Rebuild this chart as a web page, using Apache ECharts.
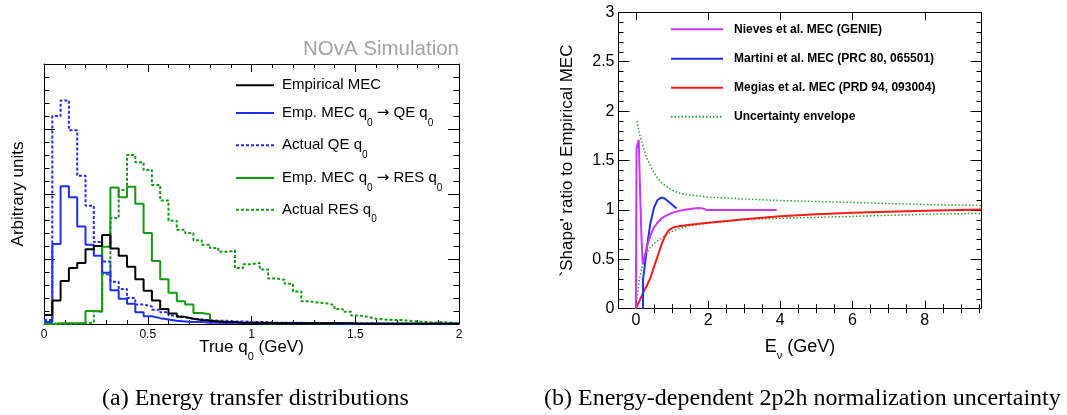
<!DOCTYPE html>
<html><head><meta charset="utf-8">
<script src="https://cdn.jsdelivr.net/npm/echarts@6/dist/echarts.min.js"></script>
<style>html,body{margin:0;padding:0;background:#fff}#c{width:1067px;height:415px}</style>
</head><body><div id="c"></div>
<script>
// ---------- Panel (a): histograms, 50 bins from 0 to 2 GeV ----------
const binWidth = 0.04;
const empMEC = [0.14,0.36,0.66,0.86,0.94,1.15,1.20,1.37,1.16,1.05,
  0.88,0.69,0.51,0.36,0.23,0.16,0.11,0.08,0.06,0.05,
  0.04,0.03,0.03,0.02,0.02,0.02,0.015,0.015,0.01,0.01,
  0.01,0.01,0.01,0.01,0.01,0.01,0.01,0.005,0.005,0.005,
  0.005,0.005,0.005,0.005,0.005,0.005,0.005,0.005,0.005,0.005];
const empToQE = [0.03,1.23,2.12,1.95,1.50,1.22,1.05,0.79,0.52,0.39,
  0.31,0.18,0.12,0.09,0.07,0.05,0.04,0.03,0.03,0.02,
  0.02,0.015,0.015,0.015,0.015,0.01,0.01,0.01,0.01,0.01,
  0.01,0.01,0.01,0.01,0.01,0.005,0.005,0.005,0.005,0.005,
  0.005,0.005,0.005,0.005,0.005,0.005,0.005,0.005,0.005,0.005];
const actualQE = [0.06,3.20,3.44,2.98,2.28,1.82,1.26,0.96,0.65,0.54,
  0.40,0.30,0.27,0.22,0.18,0.13,0.10,0.08,0.07,0.06,
  0.05,0.05,0.04,0.04,0.03,0.03,0.03,0.02,0.02,0.02,
  0.02,0.015,0.015,0.01,0.01,0.01,0.01,0.01,0.01,0.01,
  0.005,0.005,0.005,0.005,0.005,0.005,0.005,0.005,0.005,0.005];
const empToRES = [0.0,0.01,0.01,0.01,0.01,0.20,0.19,1.19,2.10,1.95,
  2.11,1.85,1.40,0.97,0.69,0.48,0.35,0.30,0.17,0.15,
  0.04,0.03,0.02,0.02,0.015,0.015,0.01,0.01,0.01,0.01,
  0.01,0.01,0.01,0.01,0.005,0.005,0.005,0.005,0.005,0.005,
  0.005,0.005,0.005,0.005,0.005,0.005,0.005,0.005,0.005,0.005];
const actualRES = [0.0,0.0,0.005,0.005,0.01,0.02,0.20,0.76,1.63,2.06,
  2.60,2.49,2.37,2.14,1.90,1.59,1.45,1.40,1.29,1.22,
  1.17,1.11,1.13,0.86,0.92,0.94,0.84,0.70,0.68,0.62,
  0.50,0.35,0.33,0.32,0.29,0.23,0.19,0.13,0.11,0.08,
  0.07,0.06,0.06,0.05,0.04,0.03,0.02,0.03,0.02,0.01];
const leftTicks = [0, 0.5, 1, 1.5, 2];
const leftNames = ['Empirical MEC', 'Emp. MEC q0 → QE q0', 'Actual QE q0', 'Emp. MEC q0 → RES q0', 'Actual RES q0'];

// ---------- Panel (b): shape ratio curves [E_nu (GeV), ratio] ----------
const nieves = [[0,0],[0.02,1.62],[0.05,1.67],[0.08,1.71],[0.12,1.15],[0.16,0.68],[0.19,0.45],[0.22,0.46],
  [0.26,0.55],[0.3,0.62],[0.4,0.74],[0.5,0.82],[0.6,0.87],[0.7,0.91],[0.8,0.935],[1.0,0.97],[1.2,0.99],
  [1.4,1.005],[1.6,1.015],[1.75,1.02],[1.85,1.015],[1.95,1.0],[2.2,1.0],[3.0,1.0],[3.9,1.0]];
const martini = [[0.2,0],[0.2,0.3],[0.23,0.38],[0.3,0.6],[0.4,0.86],[0.5,1.02],[0.6,1.1],[0.7,1.125],
  [0.8,1.115],[0.9,1.085],[1.0,1.055],[1.13,1.015]];
const megias = [[0,0],[0.1,0.08],[0.2,0.16],[0.3,0.23],[0.4,0.31],[0.5,0.42],[0.6,0.53],[0.7,0.64],
  [0.8,0.73],[0.9,0.79],[1.0,0.815],[1.1,0.83],[1.5,0.85],[2,0.87],[3,0.905],[4,0.935],[5,0.955],
  [6,0.97],[7,0.982],[8,0.992],[9,1.0],[9.57,1.005]];
const upperEnv = [[0.03,1.9],[0.1,1.77],[0.2,1.64],[0.3,1.53],[0.4,1.45],[0.5,1.38],[0.6,1.32],[0.7,1.28],
  [0.8,1.25],[1.0,1.2],[1.2,1.17],[1.5,1.15],[2,1.13],[3,1.11],[4,1.095],[5,1.085],[6,1.075],[7,1.065],
  [8,1.055],[9,1.048],[9.57,1.045]];
const lowerEnv = [[0.03,0.1],[0.1,0.3],[0.2,0.47],[0.3,0.56],[0.4,0.62],[0.5,0.66],[0.7,0.71],[0.85,0.75],
  [1.0,0.78],[1.2,0.81],[1.5,0.84],[2,0.865],[3,0.9],[4,0.915],[5,0.925],[6,0.935],[7,0.945],[8,0.955],
  [9,0.962],[9.57,0.965]];
const rightMajorX = [0, 2, 4, 6, 8];
const rightMinorX = [0.5,1,1.5,2.5,3,3.5,4.5,5,5.5,6.5,7,7.5,8.5,9,9.5];
const rightNames = ['Nieves et al. MEC (GENIE)', 'Martini et al. MEC (PRC 80, 065501)',
  'Megias et al. MEC (PRD 94, 093004)', 'Uncertainty envelope'];

// ---------- helpers ----------
const SANS = "'Liberation Sans', Arial, Helvetica, sans-serif";
const SERIF = "'Liberation Serif', 'Times New Roman', serif";
const BLACK = '#000', BLUE = '#1f2ff5', GREEN = '#159a15', MAG = '#cc33f5', RED = '#ff1a1a', GDOT = '#2aa52a';

function histPoints(vals) {
  const pts = vals.map((v, i) => [+(i * binWidth).toFixed(4), v]);
  pts.push([+(vals.length * binWidth).toFixed(4), vals[vals.length - 1]]);
  return pts;
}
const richSub = {
  t: { fontSize: 15, fontFamily: SANS, color: '#000', lineHeight: 30 },
  a: { fontSize: 15, fontFamily: "'DejaVu Sans', sans-serif", color: '#000', lineHeight: 30 },
  s: { fontSize: 10, fontFamily: SANS, color: '#000', lineHeight: 12, verticalAlign: 'bottom' }
};
const leftLegendText = {
  'Empirical MEC': '{t|Empirical MEC}',
  'Emp. MEC q0 → QE q0': '{t|Emp. MEC q}{s|0}{t| }{a|→}{t| QE q}{s|0}',
  'Actual QE q0': '{t|Actual QE q}{s|0}',
  'Emp. MEC q0 → RES q0': '{t|Emp. MEC q}{s|0}{t| }{a|→}{t| RES q}{s|0}',
  'Actual RES q0': '{t|Actual RES q}{s|0}'
};
const leftRowY = [88.3, 116, 148.3, 181, 212.7];
const rightRowY = [29.3, 58.7, 87.7, 116.7];

function frameAxis(extra) {
  return Object.assign({
    type: 'value', splitLine: { show: false }, nameMoveOverlap: false,
    axisLine: { show: true, onZero: false, lineStyle: { color: '#000', width: 1 } },
  }, extra);
}

const chart = echarts.init(document.getElementById('c'), null, { renderer: 'canvas' });
const G0 = { left: 44, top: 64, width: 415, height: 260 };
const G1 = { left: 618.5, top: 12.3, width: 363, height: 296.4 };

const legends = [];
leftNames.forEach((n, i) => legends.push({
  orient: 'vertical', left: 235, top: leftRowY[i] - 15, padding: 0, itemWidth: 38, itemHeight: 30,
  data: [n], formatter: nm => leftLegendText[nm], selectedMode: false,
  itemStyle: { opacity: 0, borderWidth: 0 },
  textStyle: { padding: [0, 0, 0, 3], rich: richSub }
}));
rightNames.forEach((n, i) => legends.push({
  orient: 'vertical', left: 670, top: rightRowY[i] - 8, padding: 0, itemWidth: 52, itemHeight: 16,
  data: [n], selectedMode: false,
  itemStyle: { opacity: 0, borderWidth: 0 },
  textStyle: { fontSize: 12, fontWeight: 'bold', fontFamily: SANS, color: '#000', lineHeight: 16, padding: [0, 0, 0, 6] }
}));

const option = {
  animation: false,
  backgroundColor: '#fff',
  grid: [Object.assign({ containLabel: false }, G0), Object.assign({ containLabel: false }, G1)],
  xAxis: [
    frameAxis({ gridIndex: 0, position: 'bottom', min: 0, max: 2, interval: 0.5,
      axisTick: { inside: true, length: 8, lineStyle: { color: '#000' } },
      minorTick: { show: true, splitNumber: 5, length: 4, lineStyle: { color: '#000' } },
      axisLabel: { fontSize: 12, fontFamily: SANS, color: '#000', margin: 5,
        formatter: v => leftTicks.includes(v) ? String(v) : '' },
      name: 'True q{s|0} (GeV)', nameLocation: 'middle', nameGap: 8,
      nameTextStyle: { rich: { t: { fontSize: 17, fontFamily: SANS, color: '#000', lineHeight: 30 },
        s: { fontSize: 11, fontFamily: SANS, color: '#000', lineHeight: 12, verticalAlign: 'bottom' } },
        fontSize: 17, fontFamily: SANS, color: '#000', lineHeight: 30 } }),
    frameAxis({ gridIndex: 0, position: 'top', min: 0, max: 2, interval: 0.5,
      axisTick: { inside: true, length: 8, lineStyle: { color: '#000' } },
      minorTick: { show: true, splitNumber: 5, length: 4, lineStyle: { color: '#000' } },
      axisLabel: { show: false } }),
    frameAxis({ gridIndex: 1, position: 'bottom', min: -0.48, max: 9.57,
      axisTick: { inside: true, length: 8, customValues: rightMajorX, lineStyle: { color: '#000' } },
      axisLabel: { fontSize: 16, fontFamily: SANS, color: '#000', margin: 4, customValues: rightMajorX },
      name: 'E{s|ν} (GeV)', nameLocation: 'middle', nameGap: 23,
      nameTextStyle: { rich: { t: { fontSize: 18, fontFamily: SANS, color: '#000', lineHeight: 30 },
        s: { fontSize: 11, fontFamily: SANS, color: '#000', lineHeight: 12, verticalAlign: 'bottom' } },
        fontSize: 18, fontFamily: SANS, color: '#000', lineHeight: 30 } }),
    frameAxis({ gridIndex: 1, position: 'bottom', min: -0.48, max: 9.57, axisLine: { show: false },
      axisTick: { inside: true, length: 4.5, customValues: rightMinorX, lineStyle: { color: '#000' } },
      axisLabel: { show: false } }),
    frameAxis({ gridIndex: 1, position: 'top', min: -0.48, max: 9.57,
      axisTick: { inside: true, length: 8, customValues: rightMajorX, lineStyle: { color: '#000' } },
      axisLabel: { show: false } }),
    frameAxis({ gridIndex: 1, position: 'top', min: -0.48, max: 9.57, axisLine: { show: false },
      axisTick: { inside: true, length: 4.5, customValues: rightMinorX, lineStyle: { color: '#000' } },
      axisLabel: { show: false } })
  ],
  yAxis: [
    frameAxis({ gridIndex: 0, position: 'left', min: 0, max: 4, interval: 1,
      axisTick: { inside: true, length: 11, lineStyle: { color: '#000' } },
      minorTick: { show: true, splitNumber: 5, length: 5.5, lineStyle: { color: '#000' } },
      axisLabel: { show: false },
      name: 'Arbitrary units', nameLocation: 'middle', nameGap: 17,
      nameTextStyle: { fontSize: 17, fontFamily: SANS, color: '#000' } }),
    frameAxis({ gridIndex: 0, position: 'right', min: 0, max: 4, interval: 1,
      axisTick: { inside: true, length: 11, lineStyle: { color: '#000' } },
      minorTick: { show: true, splitNumber: 5, length: 5.5, lineStyle: { color: '#000' } },
      axisLabel: { show: false } }),
    frameAxis({ gridIndex: 1, position: 'left', min: 0, max: 3, interval: 0.5,
      axisTick: { inside: true, length: 11, lineStyle: { color: '#000' } },
      minorTick: { show: true, splitNumber: 5, length: 5, lineStyle: { color: '#000' } },
      axisLabel: { fontSize: 16, fontFamily: SANS, color: '#000', margin: 4 },
      name: "`Shape' ratio to Empirical MEC", nameLocation: 'middle', nameGap: 43,
      nameTextStyle: { fontSize: 17, fontFamily: SANS, color: '#000' } }),
    frameAxis({ gridIndex: 1, position: 'right', min: 0, max: 3, interval: 0.5,
      axisTick: { inside: true, length: 11, lineStyle: { color: '#000' } },
      minorTick: { show: true, splitNumber: 5, length: 5, lineStyle: { color: '#000' } },
      axisLabel: { show: false } })
  ],
  legend: legends,
  series: [
    { name: 'Actual RES q0', type: 'line', step: 'end', xAxisIndex: 0, yAxisIndex: 0, symbol: 'none',
      data: histPoints(actualRES), lineStyle: { color: GREEN, width: 2, type: [3, 2] }, itemStyle: { color: GREEN } },
    { name: 'Actual QE q0', type: 'line', step: 'end', xAxisIndex: 0, yAxisIndex: 0, symbol: 'none',
      data: histPoints(actualQE), lineStyle: { color: BLUE, width: 2, type: [3, 2] }, itemStyle: { color: BLUE } },
    { name: 'Emp. MEC q0 → RES q0', type: 'line', step: 'end', xAxisIndex: 0, yAxisIndex: 0, symbol: 'none',
      data: histPoints(empToRES), lineStyle: { color: GREEN, width: 2 }, itemStyle: { color: GREEN } },
    { name: 'Emp. MEC q0 → QE q0', type: 'line', step: 'end', xAxisIndex: 0, yAxisIndex: 0, symbol: 'none',
      data: histPoints(empToQE), lineStyle: { color: BLUE, width: 2 }, itemStyle: { color: BLUE } },
    { name: 'Empirical MEC', type: 'line', step: 'end', xAxisIndex: 0, yAxisIndex: 0, symbol: 'none',
      data: histPoints(empMEC), lineStyle: { color: BLACK, width: 2 }, itemStyle: { color: BLACK } },

    { name: 'Uncertainty envelope', type: 'line', xAxisIndex: 2, yAxisIndex: 2, symbol: 'none',
      data: upperEnv, lineStyle: { color: GDOT, width: 1.5, type: [1.5, 2] }, itemStyle: { color: GDOT } },
    { name: 'Uncertainty envelope', type: 'line', xAxisIndex: 2, yAxisIndex: 2, symbol: 'none',
      data: lowerEnv, lineStyle: { color: GDOT, width: 1.5, type: [1.5, 2] }, itemStyle: { color: GDOT } },
    { name: 'Megias et al. MEC (PRD 94, 093004)', type: 'line', xAxisIndex: 2, yAxisIndex: 2, symbol: 'none',
      data: megias, lineStyle: { color: RED, width: 2 }, itemStyle: { color: RED } },
    { name: 'Martini et al. MEC (PRC 80, 065501)', type: 'line', xAxisIndex: 2, yAxisIndex: 2, symbol: 'none',
      data: martini, lineStyle: { color: BLUE, width: 2 }, itemStyle: { color: BLUE } },
    { name: 'Nieves et al. MEC (GENIE)', type: 'line', xAxisIndex: 2, yAxisIndex: 2, symbol: 'none',
      data: nieves, lineStyle: { color: MAG, width: 2 }, itemStyle: { color: MAG } }
  ],
  graphic: [
    { type: 'text', style: { x: 459, y: 49.5, text: 'NOvA Simulation', fill: '#a3a3a3',
      font: "20.5px " + SANS, textAlign: 'right', textVerticalAlign: 'middle' } },
    { type: 'text', style: { x: 102, y: 399, text: '(a) Energy transfer distributions', fill: '#000',
      font: "24px " + SERIF, textAlign: 'left', textVerticalAlign: 'middle' } },
    { type: 'text', style: { x: 544, y: 399, text: '(b) Energy-dependent 2p2h normalization uncertainty', fill: '#000',
      font: "24px " + SERIF, textAlign: 'left', textVerticalAlign: 'middle' } }
  ]
};
chart.setOption(option);
</script></body></html>
